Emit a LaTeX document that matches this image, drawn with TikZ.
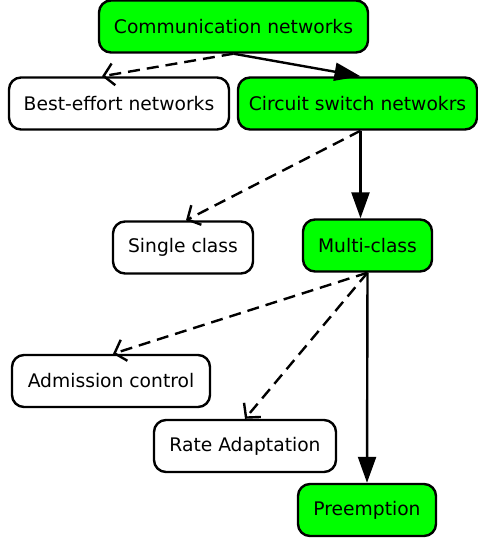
\documentclass[tikz,border=0pt]{standalone}
\usepackage{fontspec}
\setmainfont{DejaVu Sans}
\usetikzlibrary{arrows.meta}

\begin{document}
\begin{tikzpicture}[x=1pt, y=1pt,
  main/.style = {draw, rounded corners=12pt, line width=2.4pt, minimum height=52pt,
                 inner sep=0pt, font=\fontsize{18.7}{22}\selectfont},
  leaf/.style = {main, fill=white},
  path/.style = {main, fill=green},
  solid edge/.style = {line width=2.4pt, -{Triangle[length=26pt,width=18pt]}},
  dashed edge/.style = {line width=2.4pt, dash pattern=on 12pt off 7pt,
                        -{Straight Barb[length=10pt,width=22pt,line width=2.4pt]}}]
\useasboundingbox (0,0) rectangle (478,-539);
% nodes
\node[path, minimum width=269pt] (comm) at (233.5,-26.5) {Communication networks};
\node[leaf, minimum width=220pt] (best) at (119,-103.5) {Best-effort networks};
\node[path, minimum width=239pt] (circuit) at (357.5,-103.5) {Circuit switch netwokrs};
\node[leaf, minimum width=140pt] (single) at (183,-247.5) {Single class};
\node[path, minimum width=129pt] (multi) at (367.5,-245.5) {Multi-class};
\node[leaf, minimum width=198pt] (admission) at (111,-381) {Admission control};
\node[leaf, minimum width=182pt] (rate) at (245,-446) {Rate Adaptation};
\node[path, minimum width=138pt] (preempt) at (367,-510) {Preemption};
% edges
\draw[solid edge] (comm.south) -- ([xshift=3pt]circuit.north);
\draw[dashed edge] (comm.south) -- ([xshift=-17pt]best.north);
\draw[solid edge] ([xshift=3pt]circuit.south) -- ([xshift=3pt]circuit.south |- multi.north);
\draw[dashed edge] ([xshift=3pt]circuit.south) -- ([xshift=3pt]single.north);
\draw[dashed edge] (multi.south) -- ([xshift=2pt]admission.north);
\draw[dashed edge] (multi.south) -- (rate.north);
\draw[solid edge] (multi.south) -- (preempt.north);
\end{tikzpicture}
\end{document}
